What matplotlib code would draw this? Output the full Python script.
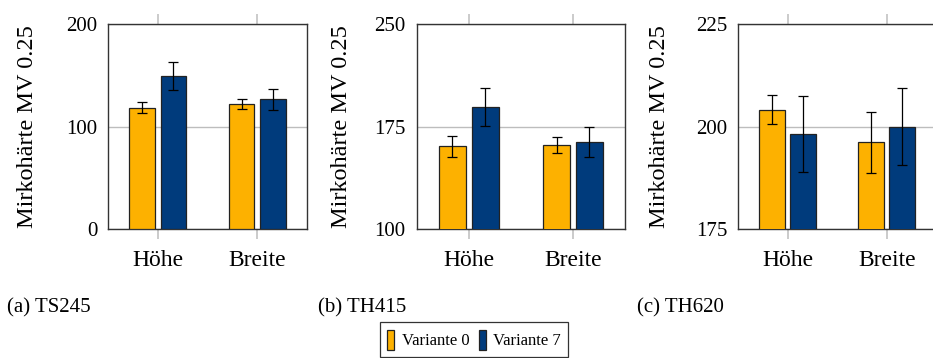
import matplotlib

matplotlib.use("Agg")
import matplotlib.pyplot as plt
import numpy as np

plt.rcParams["font.family"] = ["Liberation Serif", "DejaVu Serif"]

ORANGE = "#FDB100"
BLUE = "#003B7C"
EDGE = "#222222"
GRID = "#BDBDBD"

categories = ["Höhe", "Breite"]
series_names = ["Variante 0", "Variante 7"]
panel_titles = ["(a) TS245", "(b) TH415", "(c) TH620"]

# Mean micro-hardness and spread per material
ts245_v0 = [118.3, 122.2]
ts245_v0_err = [5.6, 4.7]
ts245_v7 = [149.3, 126.5]
ts245_v7_err = [14.1, 10.5]

th415_v0 = [160.5, 161.2]
th415_v0_err = [7.5, 5.9]
th415_v7 = [189.3, 163.4]
th415_v7_err = [13.8, 11.0]

th620_v0 = [204.1, 196.1]
th620_v0_err = [3.6, 7.4]
th620_v7 = [198.1, 200.0]
th620_v7_err = [9.3, 9.3]

y_ticks = [[0, 100, 200], [100, 175, 250], [175, 200, 225]]

panels = [
    (ts245_v0, ts245_v0_err, ts245_v7, ts245_v7_err),
    (th415_v0, th415_v0_err, th415_v7, th415_v7_err),
    (th620_v0, th620_v0_err, th620_v7, th620_v7_err),
]

W, H = 933, 358
fig = plt.figure(figsize=(W / 100, H / 100), dpi=100)

# axes boxes in pixels: left, width; label x (right edge of ylabel) in pixels
ax_left = [108.3, 416.7, 738.3]
ax_width = [198.4, 208.3, 198.0]
label_right = [38.3, 351.7, 670.0]
ax_top, ax_bottom = 24.0, 229.0
caption_x = [7, 318, 637]

bar_w = 0.26
offset = 0.157
x = np.arange(len(categories))

handles = None
for i, (v0, e0, v7, e7) in enumerate(panels):
    ax = fig.add_axes([ax_left[i] / W, 1 - ax_bottom / H,
                       ax_width[i] / W, (ax_bottom - ax_top) / H])
    ekw = dict(ecolor="black", elinewidth=0.9, capthick=0.9, capsize=3.8)
    b0 = ax.bar(x - offset, v0, bar_w, yerr=e0, color=ORANGE, edgecolor=EDGE,
                linewidth=0.9, error_kw=ekw, zorder=3, label=series_names[0])
    b7 = ax.bar(x + offset, v7, bar_w, yerr=e7, color=BLUE, edgecolor=EDGE,
                linewidth=0.9, error_kw=ekw, zorder=3, label=series_names[1])
    handles = [b0, b7]

    ticks = y_ticks[i]
    ax.set_ylim(ticks[0], ticks[-1])
    ax.set_yticks(ticks)
    ax.set_xlim(-0.5, 1.5)
    ax.set_xticks(x)
    ax.set_xticklabels(categories, fontsize=17)
    ax.tick_params(axis="x", direction="out", length=7, width=1.1, color=GRID,
                   top=True, pad=8)
    ax.tick_params(axis="y", length=0, pad=8, labelsize=15)
    ax.yaxis.grid(True, color=GRID, linewidth=1.0, zorder=0)
    ax.set_axisbelow(True)
    for sp in ax.spines.values():
        sp.set_color("#333333")
        sp.set_linewidth(1.0)

    ax.set_ylabel("Mirkohärte MV 0.25", fontsize=17.5)
    ax.yaxis.set_label_coords((label_right[i] - ax_left[i]) / ax_width[i], 0.5)

    fig.text(caption_x[i] / W, 1 - 312 / H, panel_titles[i], fontsize=15,
             ha="left", va="baseline")

leg = fig.legend(handles, series_names, loc="upper center",
                 bbox_to_anchor=(474 / W, 1 - 322 / H), ncol=2, fontsize=12,
                 frameon=True, fancybox=False, edgecolor="black",
                 handlelength=0.42, handleheight=1.5, handletextpad=0.45,
                 columnspacing=0.55, borderpad=0.45, borderaxespad=0)
leg.get_frame().set_linewidth(0.9)

fig.savefig("out.png", dpi=100)
